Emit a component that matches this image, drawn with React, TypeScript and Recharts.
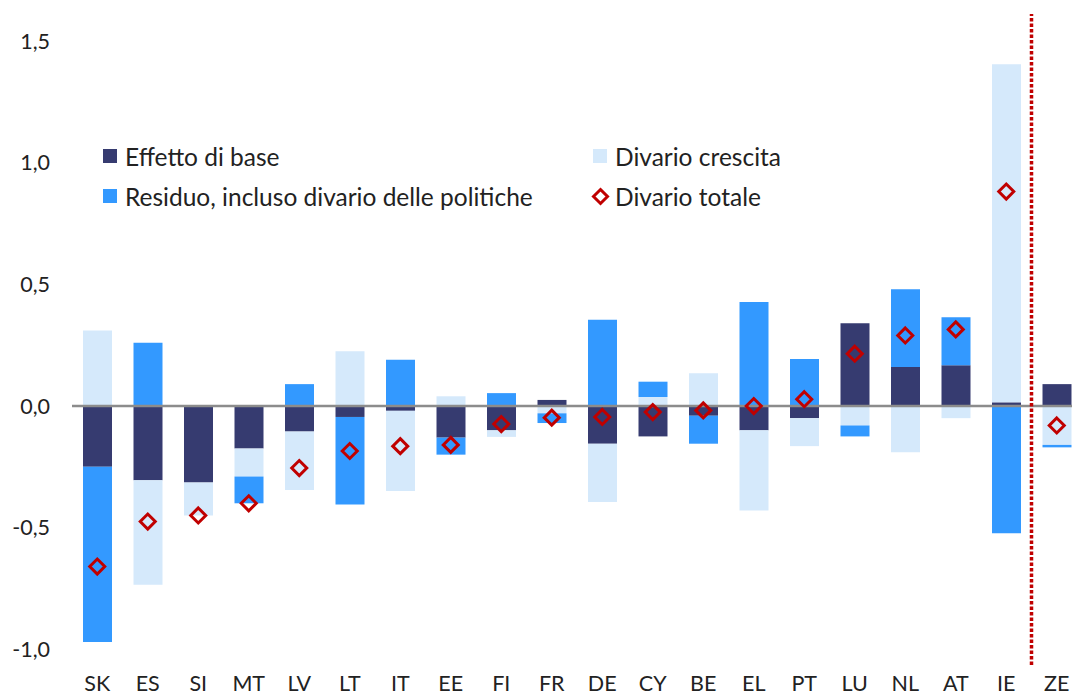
import React from 'react';
import { ComposedChart, Bar, Line, XAxis, YAxis, ReferenceLine, Legend } from 'recharts';

const categories = ['SK', 'ES', 'SI', 'MT', 'LV', 'LT', 'IT', 'EE', 'FI', 'FR', 'DE', 'CY', 'BE', 'EL', 'PT', 'LU', 'NL', 'AT', 'IE', 'ZE'];
const effettoBase = [-0.25, -0.305, -0.315, -0.175, -0.105, -0.045, -0.02, -0.13, -0.1, 0.025, -0.155, -0.125, -0.04, -0.1, -0.05, 0.34, 0.16, 0.168, 0.015, 0.09];
const divarioCrescita = [0.31, -0.43, -0.135, -0.115, -0.24, 0.225, -0.33, 0.04, -0.027, -0.03, -0.24, 0.037, 0.135, -0.33, -0.115, -0.08, -0.19, -0.05, 1.39, -0.16];
const residuo = [-0.72, 0.26, 0, -0.11, 0.09, -0.36, 0.19, -0.07, 0.053, -0.04, 0.355, 0.063, -0.115, 0.428, 0.193, -0.045, 0.32, 0.197, -0.523, -0.01];
const divarioTotale = [-0.66, -0.475, -0.45, -0.4, -0.255, -0.185, -0.165, -0.16, -0.074, -0.048, -0.045, -0.025, -0.018, 0.0, 0.028, 0.215, 0.29, 0.315, 0.882, -0.08];
const yTicks = [-1, -0.5, 0, 0.5, 1, 1.5];

const C_BASE = '#363b70';
const C_CRESC = '#d5e9fb';
const C_RES = '#3399ff';
const C_TOT = '#c00000';
const TEXT = '#222222';
const FONT = 'Lato, "Open Sans", sans-serif';

const data = categories.map((c, i) => ({
  cat: c,
  base: effettoBase[i],
  cresc: divarioCrescita[i],
  res: residuo[i],
  tot: divarioTotale[i],
}));

const legendItems = [
  { label: 'Effetto di base', color: C_BASE, type: 'square' },
  { label: 'Divario crescita', color: C_CRESC, type: 'square' },
  { label: 'Residuo, incluso divario delle politiche', color: C_RES, type: 'square' },
  { label: 'Divario totale', color: C_TOT, type: 'diamond' },
];

const Diamond = (props: any) => {
  const { cx, cy } = props;
  if (cx == null || cy == null) return null;
  const h = 7.5;
  return (
    <path
      d={`M${cx},${cy - h} L${cx + h},${cy} L${cx},${cy + h} L${cx - h},${cy} Z`}
      fill="none"
      stroke={C_TOT}
      strokeWidth={3}
    />
  );
};

const renderLegend = () => (
  <div
    style={{
      display: 'grid',
      gridTemplateColumns: '490px 320px',
      rowGap: 12,
      fontFamily: FONT,
      fontSize: 24.5,
      color: TEXT,
    }}
  >
    {legendItems.map((it) => (
      <div key={it.label} style={{ display: 'flex', alignItems: 'center', height: 28, whiteSpace: 'nowrap' }}>
        {it.type === 'square' ? (
          <span style={{ display: 'inline-block', width: 14, height: 14, background: it.color, marginRight: 8 }} />
        ) : (
          <svg width={19} height={19} style={{ marginLeft: -2, marginRight: 5 }}>
            <path d="M9.5,2.5 L16.5,9.5 L9.5,16.5 L2.5,9.5 Z" fill="none" stroke={it.color} strokeWidth={3} />
          </svg>
        )}
        <span>{it.label}</span>
      </div>
    ))}
  </div>
);

export default function App() {
  return (
    <div
      style={{
        position: 'fixed',
        left: 0,
        top: 0,
        width: 1072,
        height: 696,
        overflow: 'hidden',
        background: '#fff',
        fontFamily: FONT,
      }}
    >
      <ComposedChart
        width={1082}
        height={696}
        data={data}
        margin={{ top: 14, right: 0, bottom: 1, left: 0 }}
        stackOffset="sign"
        barSize={29}
      >
        <XAxis
          dataKey="cat"
          axisLine={false}
          tickLine={false}
          tickSize={0}
          tickMargin={11}
          height={30}
          interval={0}
          tick={{ fontSize: 21.5, fill: TEXT, fontFamily: FONT }}
        />
        <YAxis
          width={72}
          domain={[-1.065, 1.612]}
          ticks={yTicks}
          allowDataOverflow
          axisLine={false}
          tickLine={false}
          tickSize={0}
          tickMargin={22}
          tickFormatter={(v: number) => v.toFixed(1).replace('.', ',')}
          tick={{ fontSize: 21.5, fill: TEXT, fontFamily: FONT }}
        />
        <Bar dataKey="base" stackId="a" fill={C_BASE} isAnimationActive={false} />
        <Bar dataKey="cresc" stackId="a" fill={C_CRESC} isAnimationActive={false} />
        <Bar dataKey="res" stackId="a" fill={C_RES} isAnimationActive={false} />
        <ReferenceLine y={0} stroke="#8c8c8c" strokeWidth={2.5} />
        <ReferenceLine x="IE" position="end" stroke={C_TOT} strokeWidth={3.5} strokeDasharray="3.5 2" />
        <Line
          dataKey="tot"
          stroke="none"
          dot={<Diamond />}
          activeDot={false}
          legendType="none"
          isAnimationActive={false}
        />
        <Legend
          layout="vertical"
          align="center"
          verticalAlign="middle"
          wrapperStyle={{ left: 103, top: 142, width: 820 }}
          content={renderLegend}
        />
      </ComposedChart>
    </div>
  );
}
